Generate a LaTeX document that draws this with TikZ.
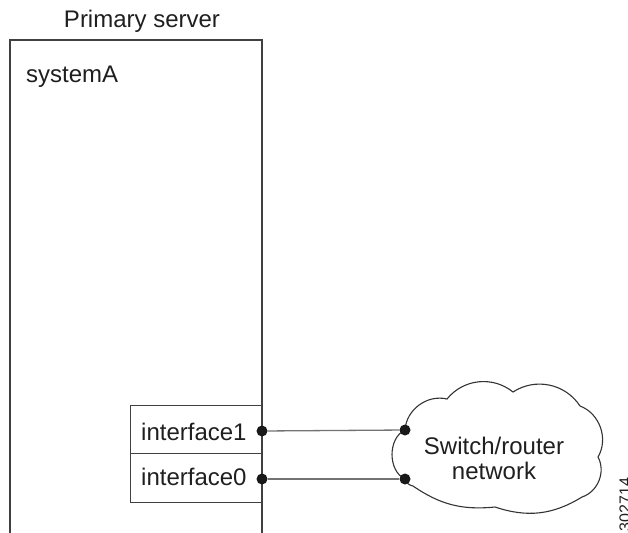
\documentclass[tikz,border=0pt]{standalone}
\usepackage{fontspec}
\setmainfont{Liberation Sans}
\begin{document}
\begin{tikzpicture}[x=1pt,y=-1pt,
  txt/.style={font=\fontsize{24}{28}\selectfont, text=black!88, inner sep=0pt},
  boxline/.style={draw=black!75, line width=1.3pt},
  conn/.style={draw=black!55, line width=1.3pt},
  dotc/.style={circle, fill=black!90, inner sep=0pt, minimum size=11pt},
  cloudline/.style={draw=black!80, line width=1.1pt}]
\useasboundingbox (0,0) rectangle (628,532);
% server box (open at the bottom)
\coordinate (sbl) at (10,533);
\coordinate (stl) at (10,40);
\coordinate (str) at (262,40);
\coordinate (sbr) at (262,533);
\draw[boxline] (sbl) -- (stl) -- (str) -- (sbr);
\node[txt, anchor=base] (title) at (142,28) {Primary server};
\node[txt, anchor=base west] (sys) at (26,83) {systemA};
% interfaces
\node[boxline, rectangle, minimum width=132pt, minimum height=48pt, inner sep=0pt, anchor=north west] (if1) at (130,405) {};
\node[boxline, rectangle, minimum width=132pt, minimum height=49pt, inner sep=0pt, anchor=north west] (if0) at (130,453) {};
\node[txt, anchor=base west] (if1t) at (141,440) {interface1};
\node[txt, anchor=base west] (if0t) at (141,485) {interface0};
% cloud
\coordinate (k1) at (405,430);
\coordinate (k2) at (447,399);
\coordinate (k3) at (513,392);
\coordinate (k4) at (580,406);
\coordinate (k5) at (598,457);
\coordinate (k6) at (582,497);
\coordinate (k7) at (495,507);
\coordinate (k8) at (413,486);
\coordinate (k9) at (405,479);
\draw[cloudline] (k1) to[bend left=50] (k2) to[bend left=45] (k3) to[bend left=45] (k4)
  to[bend left=50] (k5) to[bend left=50] (k6) to[bend left=25] (k7) to[bend left=20] (k8)
  to[bend left=30] (k9) to[bend left=65] (k1);
\node[txt, align=center] (net) at (494,458) {Switch/router\\[-3pt]network};
% connectors
\node[dotc] (d1) at (262,431) {};
\node[dotc] (d0) at (262,479) {};
\node[dotc] (c1) at (405,430) {};
\node[dotc] (c0) at (405,479) {};
\draw[conn] (d1) -- (c1);
\draw[conn] (d0) -- (c0);
% figure number
\node[font=\fontsize{16}{18}\selectfont, text=black!88, inner sep=0pt, rotate=90, anchor=base west] (fig) at (630.5,531.5) {302714};
\end{tikzpicture}
\end{document}
